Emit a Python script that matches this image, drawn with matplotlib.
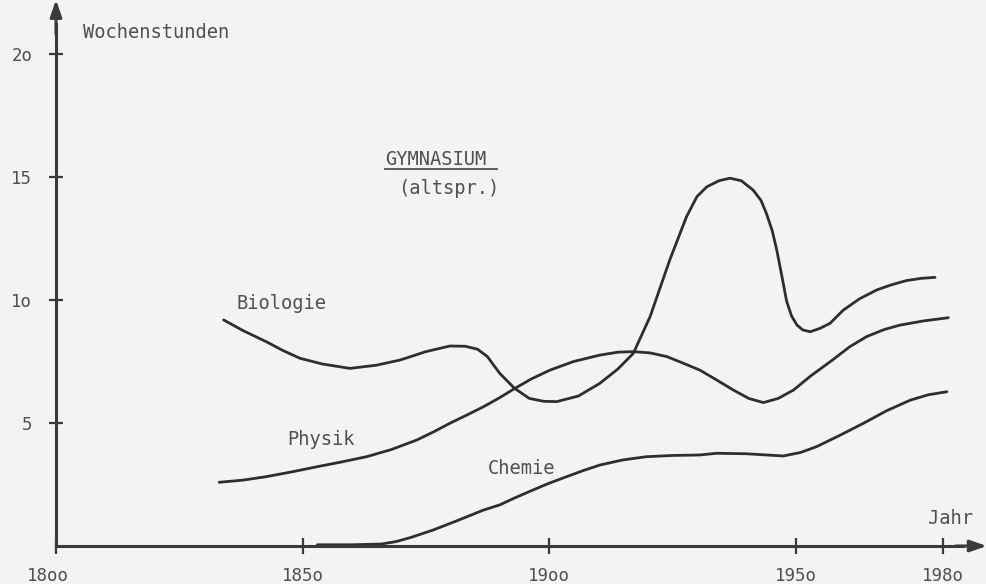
import matplotlib
matplotlib.use("Agg")
import matplotlib.pyplot as plt
from matplotlib.ticker import FixedLocator, FixedFormatter
from matplotlib.transforms import ScaledTranslation

# ---- data ----
bio_years = [1834, 1838, 1842.7, 1846, 1849.5, 1854, 1859.6, 1865, 1869.8, 1875,
             1879.9, 1883, 1885.5, 1887.5, 1890, 1893, 1896, 1899, 1901.6, 1906,
             1910.3, 1914, 1917.1, 1920.5, 1924.5, 1927.9, 1930, 1932, 1934.5, 1936.7,
             1939, 1941.4, 1943, 1944.1, 1945.3, 1946.2, 1947.3, 1948.2, 1949.2,
             1950.3, 1951.5, 1953, 1955, 1957, 1959.7, 1963, 1966.5, 1969.5,
             1972.5, 1975.5, 1978.3]
bio_vals = [9.19, 8.75, 8.30, 7.95, 7.63, 7.40, 7.22, 7.35, 7.56, 7.90,
            8.13, 8.12, 8.00, 7.70, 7.02, 6.41, 6.00, 5.88, 5.87, 6.10,
            6.61, 7.20, 7.83, 9.32, 11.63, 13.39, 14.20, 14.60, 14.85, 14.95,
            14.85, 14.47, 14.05, 13.52, 12.80, 12.03, 10.90, 9.95, 9.35,
            8.98, 8.78, 8.71, 8.85, 9.05, 9.59, 10.05, 10.41, 10.62,
            10.79, 10.88, 10.92]

phy_years = [1833.1, 1838, 1842.7, 1848, 1852.9, 1858, 1863, 1868, 1873.2, 1876.5,
             1879.9, 1883.3, 1886.7, 1890, 1893.1, 1896.5, 1900.2, 1905, 1910.3,
             1914, 1917.1, 1920.5, 1923.9, 1927, 1930.6, 1934, 1937.4, 1940.5,
             1943.5, 1946.5, 1949.6, 1953, 1957.5, 1961, 1964.4, 1968, 1971.2,
             1976, 1981]
phy_vals = [2.59, 2.68, 2.82, 3.02, 3.22, 3.42, 3.63, 3.92, 4.31, 4.63,
            4.99, 5.32, 5.66, 6.03, 6.41, 6.80, 7.15, 7.50, 7.76,
            7.88, 7.90, 7.85, 7.70, 7.45, 7.15, 6.75, 6.34, 6.00,
            5.83, 6.00, 6.34, 6.90, 7.56, 8.10, 8.51, 8.80, 8.98,
            9.15, 9.28]

che_years = [1853, 1860, 1866, 1869, 1872, 1876.5, 1881, 1886.7, 1890, 1893, 1896.8,
             1900, 1903.6, 1907, 1910.3, 1915, 1919.8, 1925, 1930.6, 1934,
             1940, 1947.5, 1951, 1954.3, 1959, 1963.8, 1968.5, 1973.3, 1977,
             1980.7]
che_vals = [0.05, 0.05, 0.08, 0.18, 0.35, 0.65, 1.00, 1.46, 1.67, 1.95, 2.28,
            2.55, 2.82, 3.07, 3.29, 3.50, 3.63, 3.68, 3.70, 3.77,
            3.75, 3.66, 3.80, 4.04, 4.50, 4.99, 5.50, 5.93, 6.15,
            6.27]

x_ticks = [1800, 1850, 1900, 1950, 1980]
x_tick_labels = ["18oo", "185o", "19oo", "195o", "198o"]
y_ticks = [5, 10, 15, 20]
y_tick_labels = ["5", "1o", "15", "2o"]

# ---- style ----
BG = "#f3f3f1"
INK = "#2e2e2e"
TXT = "#505050"
FONT = "DejaVu Sans Mono"

fig = plt.figure(figsize=(9.87, 5.84), dpi=100, facecolor=BG)
ax = fig.add_axes([0, 0, 1, 1])
ax.set_facecolor(BG)

# pixel mapping: x = 56 + 4.93*(yr-1800); y = 546 - 24.6*v
ax.set_xlim(1800 - 56 / 4.93, 1800 + 931 / 4.93)
ax.set_ylim(-38 / 24.6, 546 / 24.6)

for yrs, vals in [(bio_years, bio_vals), (phy_years, phy_vals), (che_years, che_vals)]:
    ax.plot(yrs, vals, color=INK, lw=2.0, solid_capstyle="round", solid_joinstyle="round")

# axes / spines
for s in ["top", "right"]:
    ax.spines[s].set_visible(False)
ax.spines["left"].set_position(("data", 1800))
ax.spines["bottom"].set_position(("data", 0))
ax.spines["left"].set_bounds(0, 21.2)
ax.spines["bottom"].set_bounds(1800, 1984)
for s in ["left", "bottom"]:
    ax.spines[s].set_color("#3a3a3a")
    ax.spines[s].set_linewidth(2.2)

ax.xaxis.set_major_locator(FixedLocator(x_ticks))
ax.xaxis.set_major_formatter(FixedFormatter(x_tick_labels))
ax.yaxis.set_major_locator(FixedLocator(y_ticks))
ax.yaxis.set_major_formatter(FixedFormatter(y_tick_labels))
ax.tick_params(axis="x", direction="inout", length=12, width=1.6, color="#3a3a3a",
               pad=9, labelsize=12.5, labelcolor=TXT)
ax.tick_params(axis="y", direction="inout", length=10, width=1.6, color="#3a3a3a",
               pad=12, labelsize=12.5, labelcolor=TXT)
for lab in ax.get_xticklabels() + ax.get_yticklabels():
    lab.set_fontfamily(FONT)
first = ax.get_xticklabels()[0]
first.set_transform(first.get_transform() + ScaledTranslation(-8 / 100, 0, fig.dpi_scale_trans))

# arrow heads
ax.annotate("", xy=(1800, 22.2), xytext=(1800, 20.8),
            arrowprops=dict(arrowstyle="-|>,head_length=1.0,head_width=0.35",
                            color="#3a3a3a", lw=2.2, shrinkA=0, shrinkB=0))
ax.annotate("", xy=(1988.8, 0), xytext=(1982.5, 0),
            arrowprops=dict(arrowstyle="-|>,head_length=1.0,head_width=0.35",
                            color="#3a3a3a", lw=2.2, shrinkA=0, shrinkB=0))

# texts
tk = dict(fontfamily=FONT, fontsize=13.5, color=TXT, va="center", ha="left")
ax.text(1805.5, 20.87, "Wochenstunden", **tk)
ax.text(1866.7, 15.73, "GYMNASIUM", **tk)
ax.plot([1866.7, 1889.4], [15.33, 15.33], color=TXT, lw=1.3)
ax.text(1869.4, 14.55, "(altspr.)", **tk)
ax.text(1836.7, 9.84, "Biologie", **tk)
ax.text(1846.9, 4.31, "Physik", **tk)
ax.text(1887.6, 3.17, "Chemie", **tk)
ax.text(1976.9, 1.10, "Jahr", **tk)

fig.savefig("out.png", dpi=100, facecolor=BG)
